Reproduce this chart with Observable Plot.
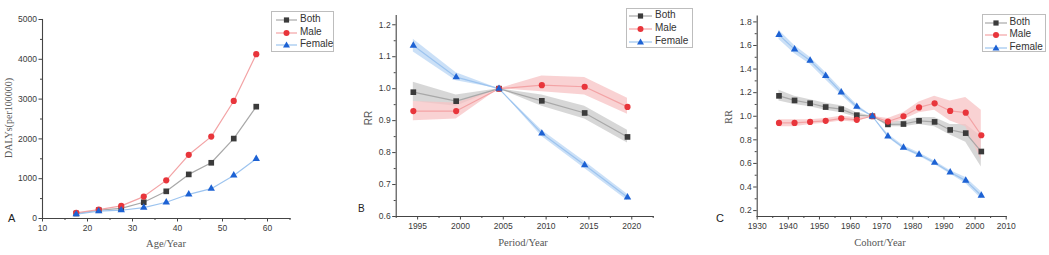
<!DOCTYPE html>
<html><head><meta charset="utf-8">
<script src="https://cdn.jsdelivr.net/npm/d3@7"></script>
<script src="https://cdn.jsdelivr.net/npm/@observablehq/plot@0.6"></script>
<style>
body{margin:0;background:#fff;}
#wrap{position:relative;width:1049px;height:255px;overflow:hidden;font-family:"Liberation Sans",Arial,sans-serif;}
.panel{position:absolute;top:0;}
.legend{position:absolute;border:1px solid #bdbdbd;background:#fff;box-sizing:border-box;}
.legend .row{position:absolute;left:0;height:12px;white-space:nowrap;}
.legend svg{position:absolute;left:0;top:0;}
.legend span{position:absolute;top:-1px;font-size:10px;color:#333;line-height:12px;}
.tag{position:absolute;font-size:11px;color:#222;line-height:12px;}
.xt{position:absolute;font-family:"Liberation Serif","Times New Roman",serif;font-size:10.5px;color:#555;transform:translateX(-50%);white-space:nowrap;line-height:12px;}
.yt{position:absolute;font-size:10.5px;color:#555;white-space:nowrap;line-height:12px;transform:translate(-50%,-50%) rotate(-90deg);}
</style></head>
<body><div id="wrap"></div>
<script>
// ---------- data ----------
const seriesNames = ["Both", "Male", "Female"];

// Panel A: age effect (DALYs per 100000)
const ageX = [17.5, 22.5, 27.5, 32.5, 37.5, 42.5, 47.5, 52.5, 57.5];
const ageBoth   = [125, 208, 255, 408, 683, 1108, 1400, 2008, 2810];
const ageMale   = [142, 225, 317, 550, 958, 1600, 2058, 2953, 4128];
const ageFemale = [108, 183, 208, 275, 408, 608, 750, 1083, 1500];

// Panel B: period effect (RR with band)
const periodX = [1994.5, 1999.5, 2004.5, 2009.5, 2014.5, 2019.5];
const periodBoth     = [0.989, 0.961, 1.0, 0.962, 0.924, 0.849];
const periodBothLo   = [0.960, 0.945, 1.0, 0.945, 0.905, 0.830];
const periodBothHi   = [1.020, 0.980, 1.0, 0.980, 0.945, 0.870];
const periodMale     = [0.930, 0.930, 1.0, 1.011, 1.006, 0.943];
const periodMaleLo   = [0.900, 0.905, 1.0, 0.990, 0.980, 0.920];
const periodMaleHi   = [0.960, 0.955, 1.0, 1.040, 1.035, 0.970];
const periodFemale   = [1.135, 1.036, 1.0, 0.860, 0.761, 0.660];
const periodFemaleLo = [1.115, 1.025, 1.0, 0.850, 0.750, 0.650];
const periodFemaleHi = [1.155, 1.050, 1.0, 0.870, 0.772, 0.670];

// Panel C: cohort effect (RR with band)
const cohortX = [1937, 1942, 1947, 1952, 1957, 1962, 1967, 1972, 1977, 1982, 1987, 1992, 1997, 2002];
const cohortBoth     = [1.173, 1.134, 1.110, 1.078, 1.060, 1.009, 1.0, 0.931, 0.934, 0.961, 0.952, 0.884, 0.857, 0.701];
const cohortBothLo   = [1.13, 1.10, 1.08, 1.05, 1.03, 0.99, 1.0, 0.91, 0.91, 0.93, 0.91, 0.84, 0.78, 0.57];
const cohortBothHi   = [1.22, 1.17, 1.14, 1.11, 1.09, 1.03, 1.0, 0.95, 0.96, 0.99, 0.99, 0.93, 0.93, 0.83];
const cohortMale     = [0.943, 0.943, 0.952, 0.961, 0.982, 0.970, 1.0, 0.955, 1.0, 1.075, 1.11, 1.045, 1.03, 0.839];
const cohortMaleLo   = [0.91, 0.91, 0.93, 0.94, 0.96, 0.95, 1.0, 0.93, 0.97, 1.03, 1.05, 0.96, 0.91, 0.63];
const cohortMaleHi   = [0.97, 0.97, 0.97, 0.98, 1.00, 0.99, 1.0, 0.98, 1.03, 1.12, 1.17, 1.13, 1.16, 1.05];
const cohortFemale   = [1.69, 1.567, 1.472, 1.343, 1.203, 1.081, 1.0, 0.830, 0.734, 0.675, 0.606, 0.525, 0.454, 0.328];
const cohortFemaleLo = [1.65, 1.53, 1.44, 1.31, 1.18, 1.06, 1.0, 0.82, 0.72, 0.66, 0.59, 0.51, 0.43, 0.30];
const cohortFemaleHi = [1.73, 1.60, 1.50, 1.37, 1.23, 1.10, 1.0, 0.85, 0.75, 0.69, 0.62, 0.54, 0.48, 0.36];

// tick values
const ageTicks = [10, 20, 30, 40, 50, 60];
const ageMinor = [15, 25, 35, 45, 55, 65];
const dalyTicks = [0, 1000, 2000, 3000, 4000, 5000];
const dalyMinor = [500, 1500, 2500, 3500, 4500];
const periodTicks = [1995, 2000, 2005, 2010, 2015, 2020];
const periodMinor = [1992.5, 1997.5, 2002.5, 2007.5, 2012.5, 2017.5, 2022.5];
const rrBTicks = [0.6, 0.7, 0.8, 0.9, 1.0, 1.1, 1.2];
const rrBMinor = [0.65, 0.75, 0.85, 0.95, 1.05, 1.15];
const cohortTicks = [1930, 1940, 1950, 1960, 1970, 1980, 1990, 2000, 2010];
const cohortMinor = [1935, 1945, 1955, 1965, 1975, 1985, 1995, 2005];
const rrCTicks = [0.2, 0.4, 0.6, 0.8, 1.0, 1.2, 1.4, 1.6, 1.8];
const rrCMinor = [0.3, 0.5, 0.7, 0.9, 1.1, 1.3, 1.5, 1.7];

// ---------- styles ----------
const style = {
  Both:   {symbol: "square",   dot: "#3b3b3b", line: "#a8a8a8", band: "#c9c9c9"},
  Male:   {symbol: "circle",   dot: "#e8353b", line: "#f3a3a5", band: "#f7c3c4"},
  Female: {symbol: "triangle", dot: "#1d62d4", line: "#9dc4ef", band: "#b9d6f4"}
};
const symR = {square: 3.2, circle: 3.1, triangle: 2.75};

function rows(xs, ys, lo, hi, name) {
  return xs.map((x, i) => ({x, y: ys[i], lo: lo ? lo[i] : null, hi: hi ? hi[i] : null, name}));
}

const wrap = document.getElementById("wrap");

function panel(cfg) {
  const marks = [];
  for (const s of cfg.series) {
    if (s.data[0].lo != null) {
      marks.push(Plot.areaY(s.data, {x: "x", y1: "lo", y2: "hi", fill: style[s.name].band, fillOpacity: 0.75, curve: "linear"}));
    }
  }
  for (const s of cfg.series) {
    marks.push(Plot.line(s.data, {x: "x", y: "y", stroke: style[s.name].line, strokeWidth: 1.2}));
  }
  for (const s of cfg.series) {
    const sym = style[s.name].symbol;
    marks.push(Plot.dot(s.data, {x: "x", y: "y", symbol: sym, r: symR[sym], fill: style[s.name].dot, stroke: "none"}));
  }
  marks.push(
    Plot.axisX(cfg.xMinor, {tickSize: 2, tickFormat: () => "", label: null, stroke: "#444"}),
    Plot.axisY(cfg.yMinor, {tickSize: 2, tickFormat: () => "", label: null, stroke: "#444"}),
    Plot.axisX(cfg.xTicks, {tickSize: 3.5, tickPadding: 3, tickFormat: cfg.xFormat, label: null, stroke: "#444", fill: "#3a3a3a", fontSize: 8.5}),
    Plot.axisY(cfg.yTicks, {tickSize: 3.5, tickPadding: 2, tickFormat: cfg.yFormat, label: null, stroke: "#444", fill: "#3a3a3a", fontSize: 8.5}),
    Plot.frame({anchor: "left", stroke: "#444", strokeWidth: 1.1}),
    Plot.frame({anchor: "bottom", stroke: "#444", strokeWidth: 1.1})
  );
  const svg = Plot.plot({
    width: cfg.width, height: 255,
    marginLeft: cfg.ml, marginRight: cfg.mr, marginTop: cfg.mt, marginBottom: cfg.mb,
    x: {domain: cfg.xDomain}, y: {domain: cfg.yDomain},
    style: {background: "transparent", fontFamily: "Liberation Sans, Arial, sans-serif", overflow: "visible"},
    marks
  });
  const div = document.createElement("div");
  div.className = "panel";
  div.style.left = cfg.left + "px";
  div.appendChild(svg);
  wrap.appendChild(div);
}

panel({
  left: 0, width: 350, ml: 42, mr: 60.5, mt: 19, mb: 37,
  xDomain: [10, 65], yDomain: [0, 5000],
  xTicks: ageTicks, xMinor: ageMinor, yTicks: dalyTicks, yMinor: dalyMinor,
  xFormat: d3.format("d"), yFormat: d3.format("d"),
  series: [
    {name: "Both", data: rows(ageX, ageBoth, null, null, "Both")},
    {name: "Male", data: rows(ageX, ageMale, null, null, "Male")},
    {name: "Female", data: rows(ageX, ageFemale, null, null, "Female")}
  ]
});
panel({
  left: 350, width: 350, ml: 45.7, mr: 47.3, mt: 15, mb: 39,
  xDomain: [1992.5, 2022.5], yDomain: [0.6, 1.229],
  xTicks: periodTicks, xMinor: periodMinor, yTicks: rrBTicks, yMinor: rrBMinor,
  xFormat: d3.format("d"), yFormat: d3.format(".1f"),
  series: [
    {name: "Both", data: rows(periodX, periodBoth, periodBothLo, periodBothHi, "Both")},
    {name: "Male", data: rows(periodX, periodMale, periodMaleLo, periodMaleHi, "Male")},
    {name: "Female", data: rows(periodX, periodFemale, periodFemaleLo, periodFemaleHi, "Female")}
  ]
});
panel({
  left: 700, width: 349, ml: 56.7, mr: 43.3, mt: 15.5, mb: 39,
  xDomain: [1930, 2010], yDomain: [0.15, 1.85],
  xTicks: cohortTicks, xMinor: cohortMinor, yTicks: rrCTicks, yMinor: rrCMinor,
  xFormat: d3.format("d"), yFormat: d3.format(".1f"),
  series: [
    {name: "Both", data: rows(cohortX, cohortBoth, cohortBothLo, cohortBothHi, "Both")},
    {name: "Male", data: rows(cohortX, cohortMale, cohortMaleLo, cohortMaleHi, "Male")},
    {name: "Female", data: rows(cohortX, cohortFemale, cohortFemaleLo, cohortFemaleHi, "Female")}
  ]
});

// ---------- legends ----------
function symbolPath(sym, cx, cy) {
  if (sym === "square") return `<rect x="${cx - 2.6}" y="${cy - 2.6}" width="5.2" height="5.2"/>`;
  if (sym === "circle") return `<circle cx="${cx}" cy="${cy}" r="3"/>`;
  return `<path d="M${cx},${cy - 3.4}L${cx + 3.5},${cy + 2.6}L${cx - 3.5},${cy + 2.6}Z"/>`;
}
function legend(left, top, w, h, rowYs, lineX0, lineX1, textX) {
  const box = document.createElement("div");
  box.className = "legend";
  Object.assign(box.style, {left: left + "px", top: top + "px", width: w + "px", height: h + "px"});
  seriesNames.forEach((n, i) => {
    const row = document.createElement("div");
    row.className = "row";
    row.style.top = (rowYs[i] - 6) + "px";
    row.style.width = w + "px";
    const cx = (lineX0 + lineX1) / 2;
    row.innerHTML = `<svg width="${textX}" height="12"><line x1="${lineX0}" x2="${lineX1}" y1="6" y2="6" stroke="${style[n].line}" stroke-width="1.2"/><g fill="${style[n].dot}">${symbolPath(style[n].symbol, cx, 6)}</g></svg><span style="left:${textX}px">${n}</span>`;
    box.appendChild(row);
  });
  wrap.appendChild(box);
}
legend(271, 11, 63, 41, [8, 21, 33], 4, 25, 28);
legend(626, 8, 67, 40, [7, 20, 33], 2, 25, 28);
legend(981.5, 14, 64, 38, [8, 20, 33], 2, 24, 27);

// ---------- titles & tags ----------
function addText(cls, text, x, y, extra) {
  const d = document.createElement("div");
  d.className = cls;
  d.textContent = text;
  d.style.left = x + "px";
  d.style.top = y + "px";
  if (extra) Object.assign(d.style, extra);
  wrap.appendChild(d);
}
addText("xt", "Age/Year", 166, 238);
addText("xt", "Period/Year", 523, 237);
addText("xt", "Cohort/Year", 880, 237);
addText("yt", "DALYs(per100000)", 9, 118, {fontFamily: "'Liberation Serif','Times New Roman',serif", fontSize: "10px"});
addText("yt", "RR", 369, 118, {fontSize: "10px"});
addText("yt", "RR", 729, 117, {fontFamily: "'Liberation Serif','Times New Roman',serif", fontSize: "10.5px"});
addText("tag", "A", 8, 212);
addText("tag", "B", 358, 203, {fontSize: "10px"});
addText("tag", "C", 716, 212);
</script>
</body></html>
